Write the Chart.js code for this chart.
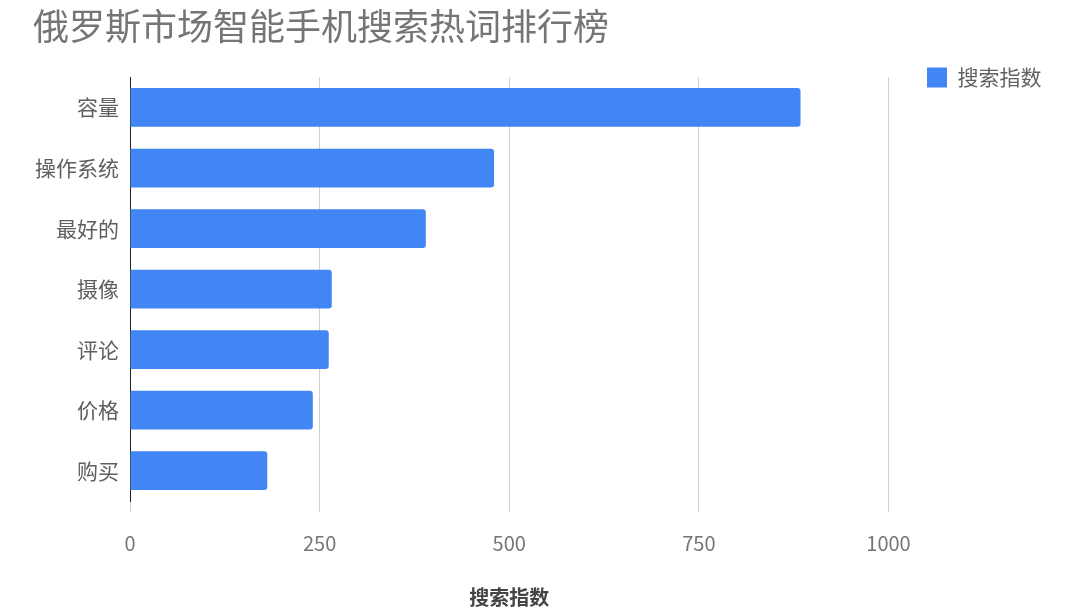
<!DOCTYPE html>
<html>
<head>
<meta charset="utf-8">
<script src="https://cdn.jsdelivr.net/npm/chart.js@4"></script>
<style>
  html, body { margin: 0; padding: 0; background: #fff; }
  #wrap { width: 1080px; height: 613px; }
</style>
</head>
<body>
<div id="wrap"><canvas id="chart"></canvas></div>
<script>
  const chartTitle = '俄罗斯市场智能手机搜索热词排行榜';
  const seriesName = '搜索指数';
  const categories = ['容量', '操作系统', '最好的', '摄像', '评论', '价格', '购买'];
  const searchIndex = [884, 480, 390, 266, 262, 241, 181];
  const xTicks = [0, 250, 500, 750, 1000];

  const CJK = '"Noto Sans CJK SC", "Noto Sans", sans-serif';
  Chart.defaults.font.family = CJK;

  // nudge the legend into the top-right corner like the original
  const legendSpot = {
    id: 'legendSpot',
    afterLayout(chart) {
      const lg = chart.legend;
      if (!lg) return;
      const w = lg.width;
      lg.left = 917;
      lg.right = 917 + w + 40;
      lg.width = w + 40;
      lg.top = 57;
    }
  };

  new Chart(document.getElementById('chart'), {
    type: 'bar',
    data: {
      labels: categories,
      datasets: [{
        label: seriesName,
        data: searchIndex,
        backgroundColor: '#4285f4',
        borderRadius: 3,
        borderSkipped: 'start',
        barPercentage: 0.8,
        categoryPercentage: 0.8
      }]
    },
    options: {
      indexAxis: 'y',
      responsive: true,
      maintainAspectRatio: false,
      animation: false,
      layout: { padding: { left: 33, right: 57, top: 0, bottom: 4 } },
      scales: {
        x: {
          min: 0,
          max: 1000,
          afterBuildTicks(scale) {
            scale.ticks = xTicks.map((v) => ({ value: v }));
          },
          grid: { color: '#cfcfcf', lineWidth: 1, drawTicks: true, tickLength: 11 },
          border: { display: false },
          ticks: {
            color: '#757575',
            font: { size: 20 },
            padding: 19,
            callback: (v) => String(v)
          },
          title: {
            display: true,
            text: seriesName,
            color: '#444',
            font: { size: 20, weight: 'bold' },
            padding: { top: 11, bottom: 0 }
          }
        },
        y: {
          afterFit(scale) { scale.width = 97; },
          grid: { display: false, drawTicks: false },
          border: { display: true, color: '#222', width: 1 },
          ticks: { color: '#5f5f5f', font: { size: 21 }, padding: 11 }
        }
      },
      plugins: {
        title: {
          display: true,
          text: chartTitle,
          align: 'start',
          color: '#757575',
          font: { size: 36, weight: 'normal' },
          padding: { top: 5, bottom: 29 }
        },
        legend: {
          position: 'right',
          align: 'start',
          labels: {
            boxWidth: 20,
            boxHeight: 20,
            padding: 10,
            color: '#616161',
            font: { size: 21 }
          }
        },
        tooltip: { enabled: false }
      }
    },
    plugins: [legendSpot]
  });
</script>
</body>
</html>
